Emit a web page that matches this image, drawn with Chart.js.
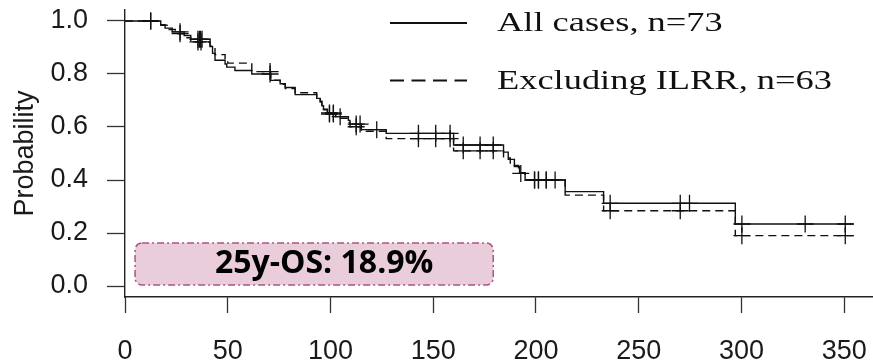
<!DOCTYPE html>
<html><head><meta charset="utf-8">
<script src="https://cdn.jsdelivr.net/npm/chart.js@4/dist/chart.umd.min.js"></script>
<style>html,body{margin:0;padding:0;background:#fff;overflow:hidden}#c{display:block}</style>
</head><body>
<canvas id="c" width="873" height="364"></canvas>
<script>
// ---- data ----
const xTickValues = [0, 50, 100, 150, 200, 250, 300, 350];
const yTickValues = [0, 0.2, 0.4, 0.6, 0.8, 1.0];
const yAxisTitle = 'Probability';

const allLabel = 'All cases, n=73';
const allTimes = [0, 17.4, 19.5, 23.0, 28.8, 32.0, 41.4, 42.6, 43.8, 48.7, 49.5, 53.5, 61.7, 70.9, 75.5, 78.0, 82.8, 93.3, 95.0, 95.8, 96.6, 98.5, 102.5, 108.7, 109.5, 115.0, 127.1, 159.9, 184.2, 186.5, 189.5, 192.0, 194.7, 214.2, 232.9, 297.0, 354.6];
const allSurv  = [1.0, 0.986, 0.973, 0.959, 0.945, 0.931, 0.904, 0.878, 0.852, 0.838, 0.826, 0.813, 0.800, 0.776, 0.763, 0.749, 0.722, 0.708, 0.694, 0.680, 0.667, 0.653, 0.639, 0.625, 0.611, 0.590, 0.576, 0.532, 0.505, 0.478, 0.451, 0.425, 0.400, 0.356, 0.312, 0.234, 0.234];
const allCensorTimes = [12.5, 26.8, 35.5, 36.2, 36.8, 37.5, 70.6, 99.5, 101.4, 104.7, 112.5, 114.4, 122.5, 142.8, 151.2, 158.2, 164.6, 172.8, 179.2, 192.6, 199.3, 201.2, 205.0, 209.3, 236.1, 270.2, 274.7, 300.2, 331.0, 350.5];
const allCensorSurv  = [1.0, 0.959, 0.931, 0.931, 0.931, 0.931, 0.800, 0.653, 0.653, 0.639, 0.611, 0.611, 0.590, 0.576, 0.576, 0.576, 0.532, 0.532, 0.532, 0.425, 0.400, 0.400, 0.400, 0.400, 0.312, 0.312, 0.312, 0.234, 0.234, 0.234];

const exclLabel = 'Excluding ILRR, n=63';
const exclTimes = [0, 17.4, 21.0, 24.5, 28.8, 32.0, 41.4, 43.8, 48.7, 50.0, 61.7, 70.9, 75.5, 78.0, 82.8, 93.3, 95.0, 95.8, 96.6, 98.5, 102.5, 108.7, 109.5, 115.0, 127.1, 159.9, 184.2, 187.5, 191.5, 194.7, 214.2, 232.9, 297.0, 354.6];
const exclSurv  = [1.0, 0.984, 0.968, 0.952, 0.937, 0.921, 0.905, 0.873, 0.857, 0.841, 0.809, 0.777, 0.761, 0.745, 0.729, 0.713, 0.697, 0.681, 0.665, 0.649, 0.633, 0.617, 0.601, 0.584, 0.556, 0.510, 0.483, 0.455, 0.428, 0.400, 0.343, 0.284, 0.190, 0.190];
const exclCensorTimes = [12.5, 26.8, 35.5, 37.0, 70.6, 99.5, 101.4, 112.5, 142.8, 151.2, 158.2, 164.6, 172.8, 179.2, 199.3, 201.2, 205.0, 236.1, 270.2, 300.2, 350.5];
const exclCensorSurv  = [1.0, 0.952, 0.921, 0.921, 0.809, 0.649, 0.649, 0.601, 0.556, 0.556, 0.556, 0.510, 0.510, 0.510, 0.400, 0.400, 0.400, 0.284, 0.284, 0.190, 0.190];

const osText = '25y-OS: 18.9%';
const osBox = {x0: 4.9, x1: 179.2, y0: 0.004, y1: 0.162};

// ---- build ----
const pts = (ts, ss) => ts.map((t, i) => ({x: t, y: ss[i]}));
const INK = '#111';

const legendPlugin = {
  id: 'kmLegend',
  afterDraw(chart) {
    const ctx = chart.ctx;
    const items = chart.data.datasets.filter(d => d.inLegend);
    ctx.save();
    items.forEach((d, i) => {
      const cy = 23 + i * 57.5;
      ctx.beginPath();
      ctx.setLineDash(i === 0 ? [] : [14, 7.5]);
      ctx.lineWidth = 2.2;
      ctx.strokeStyle = INK;
      ctx.moveTo(390, cy); ctx.lineTo(467, cy);
      ctx.stroke();
      ctx.setLineDash([]);
      ctx.save();
      ctx.translate(497, cy + 8.3);
      ctx.scale(1.3, 1);
      ctx.font = '28px "Liberation Serif"';
      ctx.fillStyle = INK;
      ctx.textBaseline = 'alphabetic';
      ctx.textAlign = 'left';
      ctx.fillText(d.label, 0, 0);
      ctx.restore();
    });
    ctx.restore();
  }
};

const boxPlugin = {
  id: 'osBox',
  afterDraw(chart) {
    const {ctx, scales: {x, y}} = chart;
    const l = x.getPixelForValue(osBox.x0), r = x.getPixelForValue(osBox.x1);
    const t = y.getPixelForValue(osBox.y1), b = y.getPixelForValue(osBox.y0);
    ctx.save();
    ctx.beginPath();
    ctx.roundRect(l, t, r - l, b - t, 7);
    ctx.fillStyle = '#eacddb';
    ctx.fill();
    ctx.setLineDash([7, 3, 2, 3]);
    ctx.lineWidth = 1.5;
    ctx.strokeStyle = '#aa5583';
    ctx.stroke();
    ctx.setLineDash([]);
    ctx.font = 'bold 32px "Open Sans"';
    ctx.fillStyle = '#000';
    ctx.textAlign = 'center';
    ctx.textBaseline = 'alphabetic';
    ctx.fillText(osText, (l + r) / 2 + 10, b - 11.5);
    ctx.restore();
  }
};

const tickFont = {family: '"Liberation Sans", Arial, sans-serif', size: 27};

new Chart(document.getElementById('c'), {
  type: 'line',
  data: {
    datasets: [
      {label: allLabel, inLegend: true, data: pts(allTimes, allSurv), stepped: true, borderColor: INK, borderWidth: 1.4, pointRadius: 0, fill: false},
      {label: exclLabel, inLegend: true, data: pts(exclTimes, exclSurv), stepped: true, borderColor: INK, borderWidth: 1.4, borderDash: [8, 5], pointRadius: 0, fill: false},
      {label: 'censor-all', data: pts(allCensorTimes, allCensorSurv), showLine: false, pointStyle: 'cross', pointRadius: 8.5, pointBorderWidth: 1.3, pointBorderColor: INK, borderColor: INK},
      {label: 'censor-excl', data: pts(exclCensorTimes, exclCensorSurv), showLine: false, pointStyle: 'cross', pointRadius: 8.5, pointBorderWidth: 1.3, pointBorderColor: INK, borderColor: INK}
    ]
  },
  options: {
    responsive: false,
    animation: false,
    devicePixelRatio: 1,
    layout: {autoPadding: false, padding: {top: 10, left: 0, right: 0, bottom: 0}},
    plugins: {legend: {display: false}, tooltip: {enabled: false}},
    scales: {
      x: {
        type: 'linear', min: 0, max: 364,
        afterBuildTicks: s => { s.ticks = xTickValues.map(v => ({value: v})); },
        afterFit: s => { s.height = 67; s.paddingLeft = 0; s.paddingRight = 0; },
        ticks: {font: tickFont, color: '#1a1a1a', padding: 22, maxRotation: 0, autoSkip: false, callback: v => String(v)},
        grid: {display: true, drawOnChartArea: false, drawTicks: true, tickLength: 16, tickColor: '#333', tickWidth: 1.3},
        border: {display: true, color: '#222', width: 1.4}
      },
      y: {
        type: 'linear', min: -0.0415, max: 1.0415,
        afterBuildTicks: s => { s.ticks = yTickValues.map(v => ({value: v})); },
        afterFit: s => { s.width = 125; s.paddingTop = 0; s.paddingBottom = 0; },
        ticks: {font: tickFont, color: '#1a1a1a', padding: 19, autoSkip: false, callback: v => v.toFixed(1)},
        grid: {display: true, drawOnChartArea: false, drawTicks: true, tickLength: 18, tickColor: '#333', tickWidth: 1.3},
        border: {display: true, color: '#222', width: 1.4},
        title: {display: true, text: yAxisTitle, font: {family: '"Liberation Sans", Arial, sans-serif', size: 27, lineHeight: 1.2}, color: '#1a1a1a', padding: {top: 9, bottom: 0}}
      }
    }
  },
  plugins: [legendPlugin, boxPlugin]
});
</script>
</body></html>
